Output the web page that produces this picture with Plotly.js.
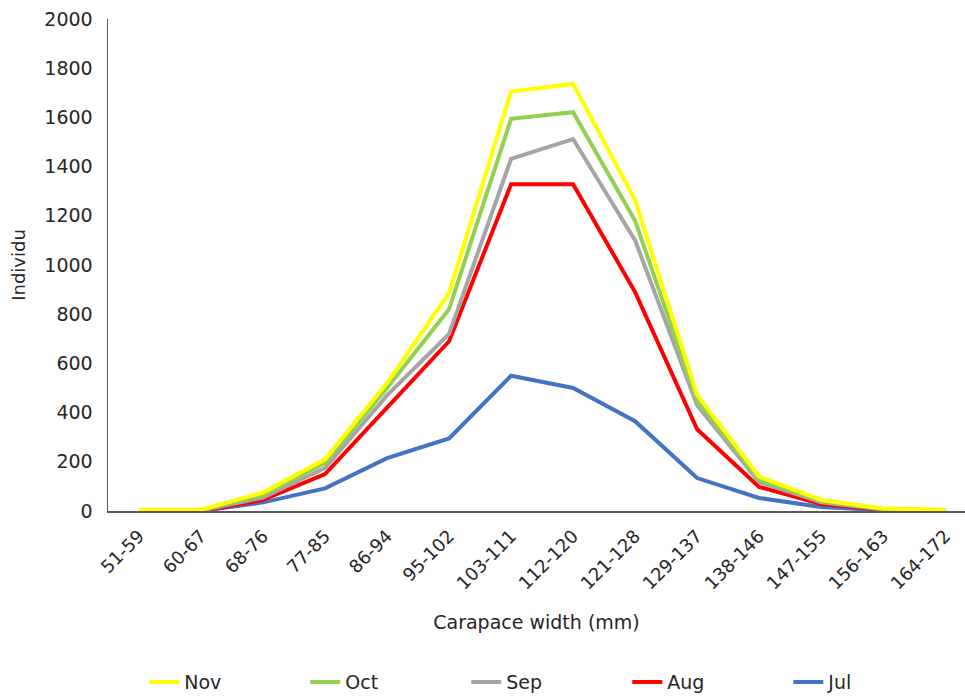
<!DOCTYPE html>
<html>
<head>
<meta charset="utf-8">
<script src="https://cdn.plot.ly/plotly-3.0.1.min.js"></script>
<style>html,body{margin:0;padding:0;background:#fff;}#chart{width:965px;height:698px;}</style>
</head>
<body>
<div id="chart"></div>
<script>
const categories = ["51-59","60-67","68-76","77-85","86-94","95-102","103-111","112-120","121-128","129-137","138-146","147-155","156-163","164-172"];
const jul = [0, 0, 35, 92, 215, 295, 550, 500, 365, 134, 53, 16, 3, 0];
const aug = [0, 0, 45, 150, 420, 690, 1328, 1328, 890, 332, 98, 28, 5, 0];
const sep = [0, 2, 55, 175, 470, 720, 1431, 1512, 1100, 430, 118, 35, 7, 2];
const oct = [2, 3, 65, 195, 500, 820, 1594, 1621, 1180, 450, 128, 40, 8, 3];
const nov = [5, 5, 75, 210, 520, 886, 1705, 1736, 1264, 472, 140, 45, 10, 5];

const seriesNames = ["Jul","Aug","Sep","Oct","Nov"];
const seriesData = [jul, aug, sep, oct, nov];
const seriesColors = ["#4472C4","#FF0000","#A5A5A5","#92D050","#FFFF00"];

const font = "DejaVu Sans, sans-serif";
const traces = seriesNames.map((n, i) => ({
  type: "scatter", mode: "lines", name: n,
  x: categories, y: seriesData[i],
  line: {color: seriesColors[i], width: 4}
}));

const layout = {
  width: 965, height: 698,
  margin: {l: 108, r: 0, t: 19, b: 187, autoexpand: false},
  paper_bgcolor: "#fff", plot_bgcolor: "#fff",
  font: {family: font, size: 17, color: "#262626"},
  showlegend: true,
  legend: {orientation: "h", traceorder: "reversed", x: 0.512, xanchor: "center", y: -0.348, yanchor: "middle",
           entrywidth: 116, font: {size: 19}, itemwidth: 30},
  xaxis: {
    type: "category", range: [-0.5, 13.32], automargin: false,
    showline: true, linecolor: "#595959", linewidth: 1.5,
    ticks: "outside", ticklen: 6, tickcolor: "rgba(0,0,0,0)", tickangle: -45, tickfont: {size: 18},
    showgrid: false, zeroline: false,
    title: {text: "Carapace width (mm)", font: {size: 19}, standoff: 23}
  },
  yaxis: {
    range: [0, 2000], dtick: 200, automargin: false,
    showline: true, linecolor: "#595959", linewidth: 1.5,
    ticks: "outside", ticklen: 10, tickcolor: "rgba(0,0,0,0)", tickfont: {size: 19}, showgrid: false, zeroline: false,
    title: {text: "Individu", font: {size: 18}, standoff: 14}
  }
};

Plotly.newPlot("chart", traces, layout, {displayModeBar: false, staticPlot: true});
</script>
</body>
</html>
